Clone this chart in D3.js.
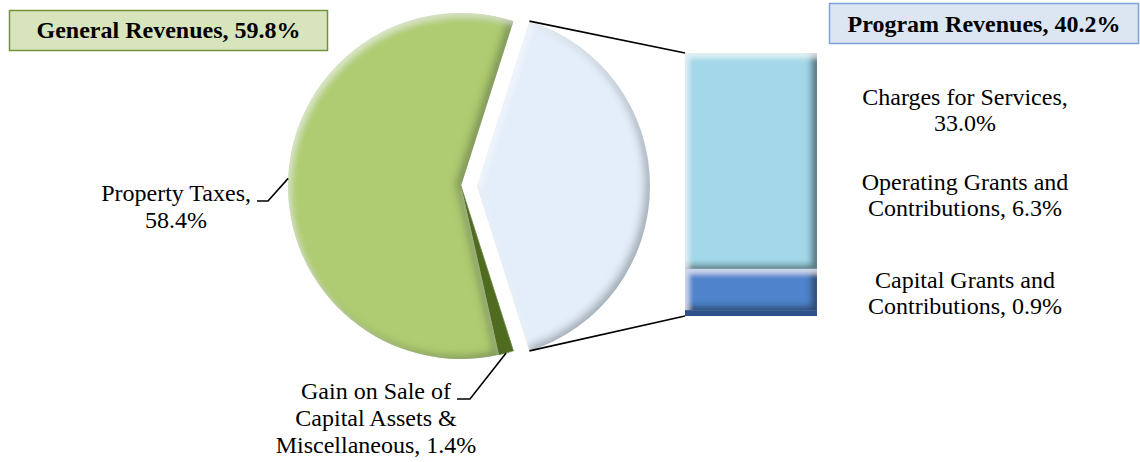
<!DOCTYPE html>
<html>
<head>
<meta charset="utf-8">
<script src="https://cdn.jsdelivr.net/npm/d3@7"></script>
<style>
  body { margin: 0; background: #fff; }
  svg text { font-family: "Liberation Serif", "Times New Roman", serif; fill: #000; }
  .label { font-size: 24px; }
  .boxText { font-size: 24px; font-weight: bold; }
  .leader { fill: none; stroke: #000; stroke-width: 1.6; }
</style>
</head>
<body>
<script>
(function(){

  //chart data
  var groupNames = ["General Revenues", "Program Revenues"];
  var groupValues = [59.8, 40.2];

  var generalNames = ["Property Taxes", "Gain on Sale of Capital Assets & Miscellaneous"];
  var generalValues = [58.4, 1.4];
  var generalLabelLines = [["Property Taxes,", ""], ["Gain on Sale of", "Capital Assets &", "Miscellaneous,"]];

  var programNames = ["Charges for Services", "Operating Grants and Contributions", "Capital Grants and Contributions"];
  var programValues = [33.0, 6.3, 0.9];
  var programLabelLines = [["Charges for Services,", ""], ["Operating Grants and", "Contributions,"], ["Capital Grants and", "Contributions,"]];

  //svg frame dimensions
  var width = 1140,
      height = 462;

  var svg = d3.select("body")
      .append("svg")
      .attr("width", width)
      .attr("height", height);

  var defs = svg.append("defs");
  makeBevel(defs, "bevel", 5, 4, 0.55, 0.5);
  makeBevel(defs, "bevelBar", 6, 3, 0.75, 0.6);

  //pie geometry
  var cx = 461,
      cy = 186,
      radius = 173,
      explode = 16;

  //bar geometry
  var barX = 685,
      barW = 132,
      barTop = 53,
      barBottom = 316;

  //helper: put value on last label line
  function labelLines(lines, val){
      var out = lines.slice();
      var last = out.length - 1;
      out[last] = (out[last] + " " + val.toFixed(1) + "%").trim();
      return out;
  }

  //build pie data: program slice first, then misc, then property taxes
  var pieData = [
      {name: groupNames[1], value: groupValues[1], kind: "program"},
      {name: generalNames[1], value: generalValues[1], kind: "misc", lines: labelLines(generalLabelLines[1], generalValues[1])},
      {name: generalNames[0], value: generalValues[0], kind: "property", lines: labelLines(generalLabelLines[0], generalValues[0])}
  ];

  //center program slice on the right side
  var startAngle = Math.PI / 2 - (groupValues[1] / 100) * Math.PI;

  var pie = d3.pie()
      .sort(null)
      .value(function(d){ return d.value; })
      .startAngle(startAngle)
      .endAngle(startAngle + 2 * Math.PI);

  var arc = d3.arc()
      .innerRadius(0)
      .outerRadius(radius);

  var pieColors = {program: "#e3eefa", misc: "#4e6b20", property: "#afcc72"};

  var arcs = pie(pieData);

  //offset of exploded slice
  function offset(d){
      if (d.data.kind != "program") return [0, 0];
      var mid = (d.startAngle + d.endAngle) / 2;
      return [Math.sin(mid) * explode, -Math.cos(mid) * explode];
  }

  function edgePoint(a, off){
      return [cx + off[0] + radius * Math.sin(a), cy + off[1] - radius * Math.cos(a)];
  }

  //draw slices
  svg.append("g")
      .selectAll(".slice")
      .data(arcs)
      .enter()
      .append("path")
      .attr("class", "slice")
      .attr("transform", function(d){
          var o = offset(d);
          return "translate(" + (cx + o[0]) + "," + (cy + o[1]) + ")";
      })
      .attr("d", arc)
      .style("fill", function(d){ return pieColors[d.data.kind]; })
      .style("stroke", function(d){ return d.data.kind == "misc" ? "#6f8a48" : "none"; })
      .style("stroke-width", 0.8)
      .attr("filter", function(d){ return d.data.kind == "misc" ? null : "url(#bevel)"; });

  //connector lines from exploded slice to bar
  var prog = arcs[0];
  var po = offset(prog);
  var topTip = edgePoint(prog.startAngle, po),
      botTip = edgePoint(prog.endAngle, po);

  svg.append("line").attr("class", "leader")
      .attr("x1", topTip[0]).attr("y1", topTip[1])
      .attr("x2", barX).attr("y2", barTop);
  svg.append("line").attr("class", "leader")
      .attr("x1", botTip[0]).attr("y1", botTip[1])
      .attr("x2", barX).attr("y2", barBottom);

  //stacked bar for program revenues
  var yScale = d3.scaleLinear()
      .domain([0, d3.sum(programValues)])
      .range([barTop, barBottom]);

  var barColors = ["#a2d8e8", "#4f84cc", "#2d5289"];
  var cum = 0;
  var barData = programValues.map(function(v, i){
      var d = {name: programNames[i], value: v, y0: cum, y1: cum + v};
      cum += v;
      return d;
  });

  svg.append("g")
      .selectAll(".bar")
      .data(barData)
      .enter()
      .append("rect")
      .attr("class", "bar")
      .attr("x", barX)
      .attr("width", barW)
      .attr("y", function(d){ return yScale(d.y0); })
      .attr("height", function(d){ return yScale(d.y1) - yScale(d.y0); })
      .style("fill", function(d, i){ return barColors[i]; })
      .attr("filter", function(d, i){ return i < 2 ? "url(#bevelBar)" : null; });

  //leader lines and labels for general revenue slices
  var leaderElbows = {property: [[268, 201], 11], misc: [[470, 399], 13]};

  arcs.slice(1).forEach(function(d){
      var mid = (d.startAngle + d.endAngle) / 2;
      var p0 = edgePoint(mid, [0, 0]);
      var elbow = leaderElbows[d.data.kind][0];
      var p2 = [elbow[0] - leaderElbows[d.data.kind][1], elbow[1]];

      svg.append("polyline")
          .attr("class", "leader")
          .attr("points", [p0, elbow, p2].map(function(p){ return p.join(","); }).join(" "));

      //text block centered under first line, ending just left of leader
      var g = svg.append("g");
      var first = g.append("text").attr("class", "label").text(d.data.lines[0]);
      var w = first.node().getComputedTextLength();
      var centerX = p2[0] - 6 - w / 2;
      g.selectAll("text").remove();
      g.selectAll("text")
          .data(d.data.lines)
          .enter()
          .append("text")
          .attr("class", "label")
          .attr("text-anchor", "middle")
          .attr("x", centerX)
          .attr("y", function(t, i){ return elbow[1] + i * 27; })
          .text(function(t){ return t; });
  });

  //labels for program revenues
  var progLabelX = 965,
      progLabelY = [105, 190, 288];

  programValues.forEach(function(v, i){
      var lines = labelLines(programLabelLines[i], v);
      svg.append("g")
          .selectAll("text")
          .data(lines)
          .enter()
          .append("text")
          .attr("class", "label")
          .attr("text-anchor", "middle")
          .attr("x", progLabelX)
          .attr("y", function(t, j){ return progLabelY[i] + j * 26; })
          .text(function(t){ return t; });
  });

  //group title boxes
  var boxes = [
      {text: groupNames[0] + ", " + groupValues[0].toFixed(1) + "%", x: 9.5, y: 10.5, w: 318, h: 40, base: 38, fill: "#d8e4bc", stroke: "#76923c"},
      {text: groupNames[1] + ", " + groupValues[1].toFixed(1) + "%", x: 829.5, y: 3.5, w: 309, h: 40, base: 32, fill: "#dce6f2", stroke: "#7ea3d6"}
  ];

  boxes.forEach(function(b){
      svg.append("rect")
          .attr("x", b.x)
          .attr("y", b.y)
          .attr("width", b.w)
          .attr("height", b.h)
          .style("fill", b.fill)
          .style("stroke", b.stroke)
          .style("stroke-width", 1.5);
      svg.append("text")
          .attr("class", "boxText")
          .attr("text-anchor", "middle")
          .attr("x", b.x + b.w / 2)
          .attr("y", b.base)
          .text(b.text);
  });

  //bevel filter: dark inner edge at bottom-right, light inner edge at top-left
  function makeBevel(defs, id, shift, blur, darkOp, lightOp){
      var f = defs.append("filter")
          .attr("id", id)
          .attr("x", "-10%").attr("y", "-10%")
          .attr("width", "120%").attr("height", "120%");

      f.append("feOffset").attr("in", "SourceAlpha").attr("dx", -shift).attr("dy", -shift * 0.6).attr("result", "offD");
      f.append("feGaussianBlur").attr("in", "offD").attr("stdDeviation", blur).attr("result", "blurD");
      f.append("feComposite").attr("in", "SourceAlpha").attr("in2", "blurD").attr("operator", "out").attr("result", "edgeD");
      f.append("feFlood").attr("flood-color", "#1a2a2c").attr("flood-opacity", darkOp).attr("result", "colD");
      f.append("feComposite").attr("in", "colD").attr("in2", "edgeD").attr("operator", "in").attr("result", "shadow");

      f.append("feOffset").attr("in", "SourceAlpha").attr("dx", shift * 0.6).attr("dy", shift * 0.8).attr("result", "offL");
      f.append("feGaussianBlur").attr("in", "offL").attr("stdDeviation", blur * 0.8).attr("result", "blurL");
      f.append("feComposite").attr("in", "SourceAlpha").attr("in2", "blurL").attr("operator", "out").attr("result", "edgeL");
      f.append("feFlood").attr("flood-color", "#ffffff").attr("flood-opacity", lightOp).attr("result", "colL");
      f.append("feComposite").attr("in", "colL").attr("in2", "edgeL").attr("operator", "in").attr("result", "light");

      var m = f.append("feMerge");
      m.append("feMergeNode").attr("in", "SourceGraphic");
      m.append("feMergeNode").attr("in", "shadow");
      m.append("feMergeNode").attr("in", "light");
  }

})();
</script>
</body>
</html>
